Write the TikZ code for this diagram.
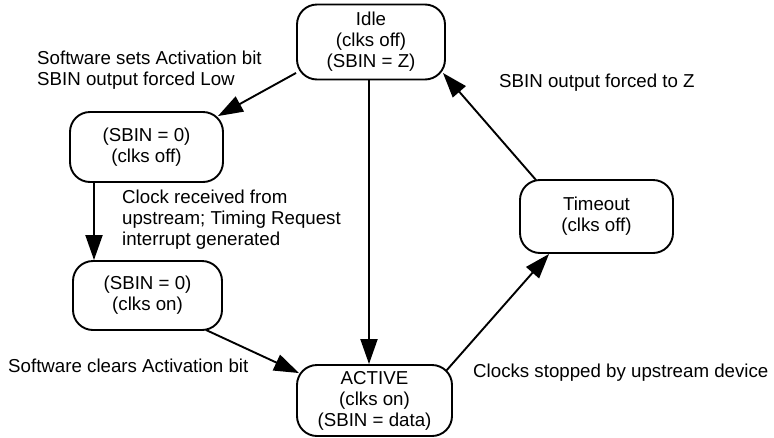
\documentclass[tikz,border=0pt]{standalone}
\usepackage{fontspec}
\setmainfont{Liberation Sans}
\usetikzlibrary{arrows.meta}
\tikzset{
  statebox/.style={draw,line width=1.9pt,rounded corners=20pt,align=center,inner sep=0pt},
  trans/.style={line width=1.9pt,-{Triangle[length=25pt,width=17pt]}},
  lbl/.style={align=left,inner sep=0pt}
}
\begin{document}
\begin{tikzpicture}[x=1pt,y=-1pt,font=\fontsize{18.7}{21}\selectfont]
\useasboundingbox (0,0) rectangle (774,437);
\node at (371,42) [statebox,minimum width=148,minimum height=75] (idle) {Idle\\(clks off)\\(SBIN = Z)};
\node at (146.5,147) [statebox,minimum width=153,minimum height=70] (off) {(SBIN = 0)\\(clks off)};
\node at (147.5,295.5) [statebox,minimum width=149,minimum height=69] (on) {(SBIN = 0)\\(clks on)};
\node at (374.5,400.5) [statebox,minimum width=155,minimum height=71] (active) {ACTIVE\\(clks on)\\(SBIN = data)};
\node at (596.5,216.5) [statebox,minimum width=153,minimum height=73] (timeout) {Timeout\\(clks off)};
\node at (37,51) [lbl,anchor=north west] (lblset) {Software sets Activation bit\\SBIN output forced Low};
\node at (122,190) [lbl,anchor=north west] (lblclk) {Clock received from\\upstream; Timing Request\\interrupt generated};
\node at (8,372) [lbl,anchor=base west] (lblclr) {Software clears Activation bit};
\node at (473,377) [lbl,anchor=base west] (lblstop) {Clocks stopped by upstream device};
\node at (499,87) [lbl,anchor=base west] (lblz) {SBIN output forced to Z};
\draw[trans] ([shift={(0,-7.5)}]idle.south west) -- ([shift={(-6,5)}]off.north east);
\draw[trans] ([shift={(-52.5,0)}]off.south) -- ([shift={(-53.5,0)}]on.north);
\draw[trans] ([shift={(-2,0)}]idle.south) -- ([shift={(-2,0)}]idle.south |- active.north);
\draw[trans] ([shift={(-17,-1)}]on.south east) -- ([shift={(3,9)}]active.north west);
\draw[trans] ([shift={(-7,7)}]active.north east) -- ([shift={(30,0)}]timeout.south west);
\draw[trans] ([shift={(17,1)}]timeout.north west) -- ([shift={(-3,-7.5)}]idle.south east);
\end{tikzpicture}
\end{document}
